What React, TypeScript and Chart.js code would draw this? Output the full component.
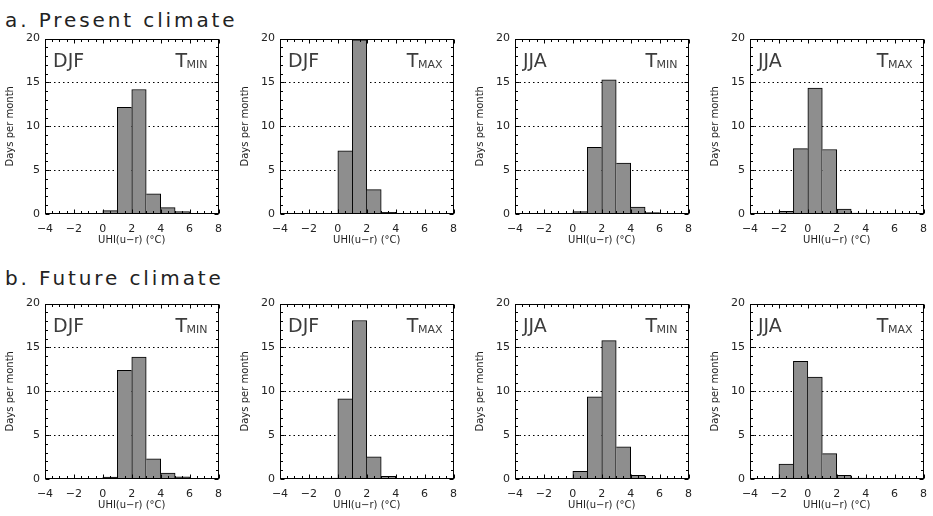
import React, { useEffect, useRef } from "react";
import { Chart, registerables } from "chart.js";

Chart.register(...registerables);

// ---- data ----
const BIN_CENTERS = [-3.5, -2.5, -1.5, -0.5, 0.5, 1.5, 2.5, 3.5, 4.5, 5.5, 6.5, 7.5];
const X_TICKS = [-4, -2, 0, 2, 4, 6, 8];
const Y_TICKS = [0, 5, 10, 15, 20];
const GRID_LINES = [5, 10, 15];

const PRESENT_DJF_TMIN = [0, 0, 0, 0.03, 0.38, 12.15, 14.2, 2.3, 0.72, 0.27, 0.06, 0];
const PRESENT_DJF_TMAX = [0, 0, 0, 0.05, 7.2, 19.85, 2.78, 0.19, 0, 0, 0, 0];
const PRESENT_JJA_TMIN = [0, 0, 0, 0.02, 0.27, 7.6, 15.3, 5.8, 0.8, 0.15, 0.02, 0];
const PRESENT_JJA_TMAX = [0, 0, 0.3, 7.45, 14.35, 7.35, 0.57, 0.1, 0.02, 0, 0, 0];
const FUTURE_DJF_TMIN = [0, 0, 0, 0.03, 0.23, 12.4, 13.9, 2.3, 0.68, 0.26, 0.08, 0];
const FUTURE_DJF_TMAX = [0, 0, 0.02, 0.1, 9.13, 18.07, 2.53, 0.3, 0.02, 0, 0, 0];
const FUTURE_JJA_TMIN = [0, 0, 0, 0.03, 0.87, 9.36, 15.77, 3.66, 0.42, 0.05, 0, 0];
const FUTURE_JJA_TMAX = [0, 0.03, 1.7, 13.43, 11.62, 2.9, 0.42, 0.1, 0.05, 0.04, 0.03, 0];

const ROW_TITLES = ["a. Present climate", "b. Future climate"];
const SEASONS = ["DJF", "DJF", "JJA", "JJA"];
const VARS = ["MIN", "MAX", "MIN", "MAX"];
const ROW_DATA = [
  [PRESENT_DJF_TMIN, PRESENT_DJF_TMAX, PRESENT_JJA_TMIN, PRESENT_JJA_TMAX],
  [FUTURE_DJF_TMIN, FUTURE_DJF_TMAX, FUTURE_JJA_TMIN, FUTURE_JJA_TMAX],
];

// ---- layout ----
const PLOT_LEFTS = [45, 280, 515, 750];
const PLOT_TOPS = [37, 302];
const PLOT_W = 178;
const PLOT_H = 177;
const PAD_L = 45;
const PAD_T = 10;
const PAD_R = 8;
const PAD_B = 34;
const TITLE_TOPS = [10, 268];

const FONT = "'DejaVu Sans', 'Liberation Sans', sans-serif";
const TEXT = "#222";

const fmt = (v: number) => (v < 0 ? "\u2212" + Math.abs(v) : String(v));

const decorPlugin = {
  id: "panelDecor",
  beforeDatasetsDraw(chart: any) {
    const { ctx, chartArea: a, scales } = chart;
    const y = scales.y;
    ctx.save();
    ctx.strokeStyle = "#000";
    ctx.lineWidth = 1;
    ctx.setLineDash([1.5, 3]);
    for (const v of GRID_LINES) {
      const py = Math.round(y.getPixelForValue(v)) + 0.5;
      ctx.beginPath();
      ctx.moveTo(a.left, py);
      ctx.lineTo(a.right, py);
      ctx.stroke();
    }
    ctx.restore();
  },
  afterDatasetsDraw(chart: any, _args: any, opts: any) {
    const { ctx, chartArea: a, scales } = chart;
    const x = scales.x;
    const y = scales.y;
    ctx.save();
    ctx.strokeStyle = "#000";
    ctx.lineWidth = 1;
    // frame
    const L = Math.round(a.left) + 0.5;
    const R = Math.round(a.right) - 0.5;
    const T = Math.round(a.top) + 0.5;
    const B = Math.round(a.bottom) - 0.5;
    ctx.strokeRect(L, T, R - L, B - T);
    // x ticks (inward, top and bottom)
    ctx.beginPath();
    for (let v = X_TICKS[0]; v <= X_TICKS[X_TICKS.length - 1] + 1e-9; v += 0.5) {
      const px = Math.round(x.getPixelForValue(v)) + 0.5;
      const len = X_TICKS.includes(v) ? 4 : 2.5;
      ctx.moveTo(px, B);
      ctx.lineTo(px, B - len);
      ctx.moveTo(px, T);
      ctx.lineTo(px, T + len);
    }
    // y ticks (inward, left and right)
    for (let v = Y_TICKS[0]; v <= Y_TICKS[Y_TICKS.length - 1] + 1e-9; v += 1) {
      const py = Math.round(y.getPixelForValue(v)) + 0.5;
      const len = Y_TICKS.includes(v) ? 4 : 2.5;
      ctx.moveTo(L, py);
      ctx.lineTo(L + len, py);
      ctx.moveTo(R, py);
      ctx.lineTo(R - len, py);
    }
    ctx.stroke();
    // labels
    ctx.fillStyle = "#3c3c3c";
    ctx.textBaseline = "alphabetic";
    ctx.textAlign = "left";
    ctx.font = `19px ${FONT}`;
    const base = a.top + 28.5;
    ctx.fillText(opts.season, a.left + 8, base);
    ctx.font = `11px ${FONT}`;
    const wSub = ctx.measureText(opts.sub).width;
    ctx.font = `19px ${FONT}`;
    const wT = ctx.measureText("T").width;
    const xSub = a.right - 11 - wSub;
    ctx.fillText("T", xSub - wT + 0.5, base);
    ctx.font = `11px ${FONT}`;
    ctx.fillText(opts.sub, xSub, base + 1);
    ctx.restore();
  },
};

function Panel({ values, season, sub, left, top }: { values: number[]; season: string; sub: string; left: number; top: number }) {
  const ref = useRef<HTMLCanvasElement | null>(null);
  useEffect(() => {
    const canvas = ref.current;
    if (!canvas) return;
    const n = values.length;
    const bw = (i: number) => ({
      top: 1,
      bottom: 0,
      left: i === 0 || values[i] >= values[i - 1] ? 1 : 0,
      right: i === n - 1 || values[i] > values[i + 1] ? 1 : 0,
    });
    const chart = new Chart(canvas, {
      type: "bar",
      data: {
        datasets: [
          {
            data: BIN_CENTERS.map((c, i) => ({ x: c, y: values[i] })),
            backgroundColor: "#8e8e8e",
            borderColor: "#000",
            borderWidth: (ctx: any) => bw(ctx.dataIndex),
            borderSkipped: false,
            barPercentage: 1,
            categoryPercentage: 1,
          } as any,
        ],
      },
      options: {
        responsive: false,
        animation: false,
        devicePixelRatio: 1,
        layout: { padding: { left: 0, top: PAD_T, right: PAD_R, bottom: 0 } },
        plugins: {
          legend: { display: false },
          tooltip: { enabled: false },
          panelDecor: { season, sub },
        } as any,
        scales: {
          x: {
            type: "linear",
            min: X_TICKS[0],
            max: X_TICKS[X_TICKS.length - 1],
            offset: false,
            grid: { display: false, drawTicks: false, offset: false },
            border: { display: false },
            afterBuildTicks: (s: any) => {
              s.ticks = X_TICKS.map((v) => ({ value: v }));
            },
            afterFit: (s: any) => {
              s.height = PAD_B;
            },
            ticks: {
              padding: 9,
              maxRotation: 0,
              autoSkip: false,
              color: TEXT,
              font: { family: FONT, size: 11 },
              callback: (v: any) => fmt(Number(v)),
            },
            title: {
              display: true,
              text: "UHI(u\u2212r) (\u00b0C)",
              color: TEXT,
              font: { family: FONT, size: 10 },
              padding: { top: 0, bottom: 2 },
            },
          },
          y: {
            min: Y_TICKS[0],
            max: Y_TICKS[Y_TICKS.length - 1],
            grid: { display: false, drawTicks: false },
            border: { display: false },
            afterBuildTicks: (s: any) => {
              s.ticks = Y_TICKS.map((v) => ({ value: v }));
            },
            afterFit: (s: any) => {
              s.width = PAD_L;
            },
            ticks: {
              padding: 5,
              color: TEXT,
              font: { family: FONT, size: 11 },
              callback: (v: any) => fmt(Number(v)),
            },
            title: {
              display: true,
              text: "Days per month",
              color: TEXT,
              font: { family: FONT, size: 10 },
              padding: { top: 4, bottom: 0 },
            },
          },
        },
      } as any,
      plugins: [decorPlugin],
    });
    return () => chart.destroy();
  }, [values, season, sub]);
  const w = PAD_L + PLOT_W + PAD_R;
  const h = PAD_T + PLOT_H + PAD_B;
  return (
    <canvas
      ref={ref}
      width={w}
      height={h}
      style={{ position: "absolute", left: left - PAD_L, top: top - PAD_T, width: w, height: h, display: "block" }}
    />
  );
}

export default function App() {
  return (
    <div style={{ position: "absolute", left: 0, top: 0, width: 933, height: 516, background: "#fff", overflow: "hidden" }}>
      {ROW_TITLES.map((t, r) => (
        <div
          key={t}
          style={{
            position: "absolute",
            left: 5,
            top: TITLE_TOPS[r],
            fontFamily: FONT,
            fontSize: 20,
            lineHeight: "20px",
            letterSpacing: "2.9px",
            color: TEXT,
            whiteSpace: "nowrap",
          }}
        >
          {t}
        </div>
      ))}
      {ROW_DATA.map((row, r) =>
        row.map((vals, c) => (
          <Panel
            key={`${r}-${c}`}
            values={vals}
            season={SEASONS[c]}
            sub={VARS[c]}
            left={PLOT_LEFTS[c]}
            top={PLOT_TOPS[r]}
          />
        ))
      )}
    </div>
  );
}
